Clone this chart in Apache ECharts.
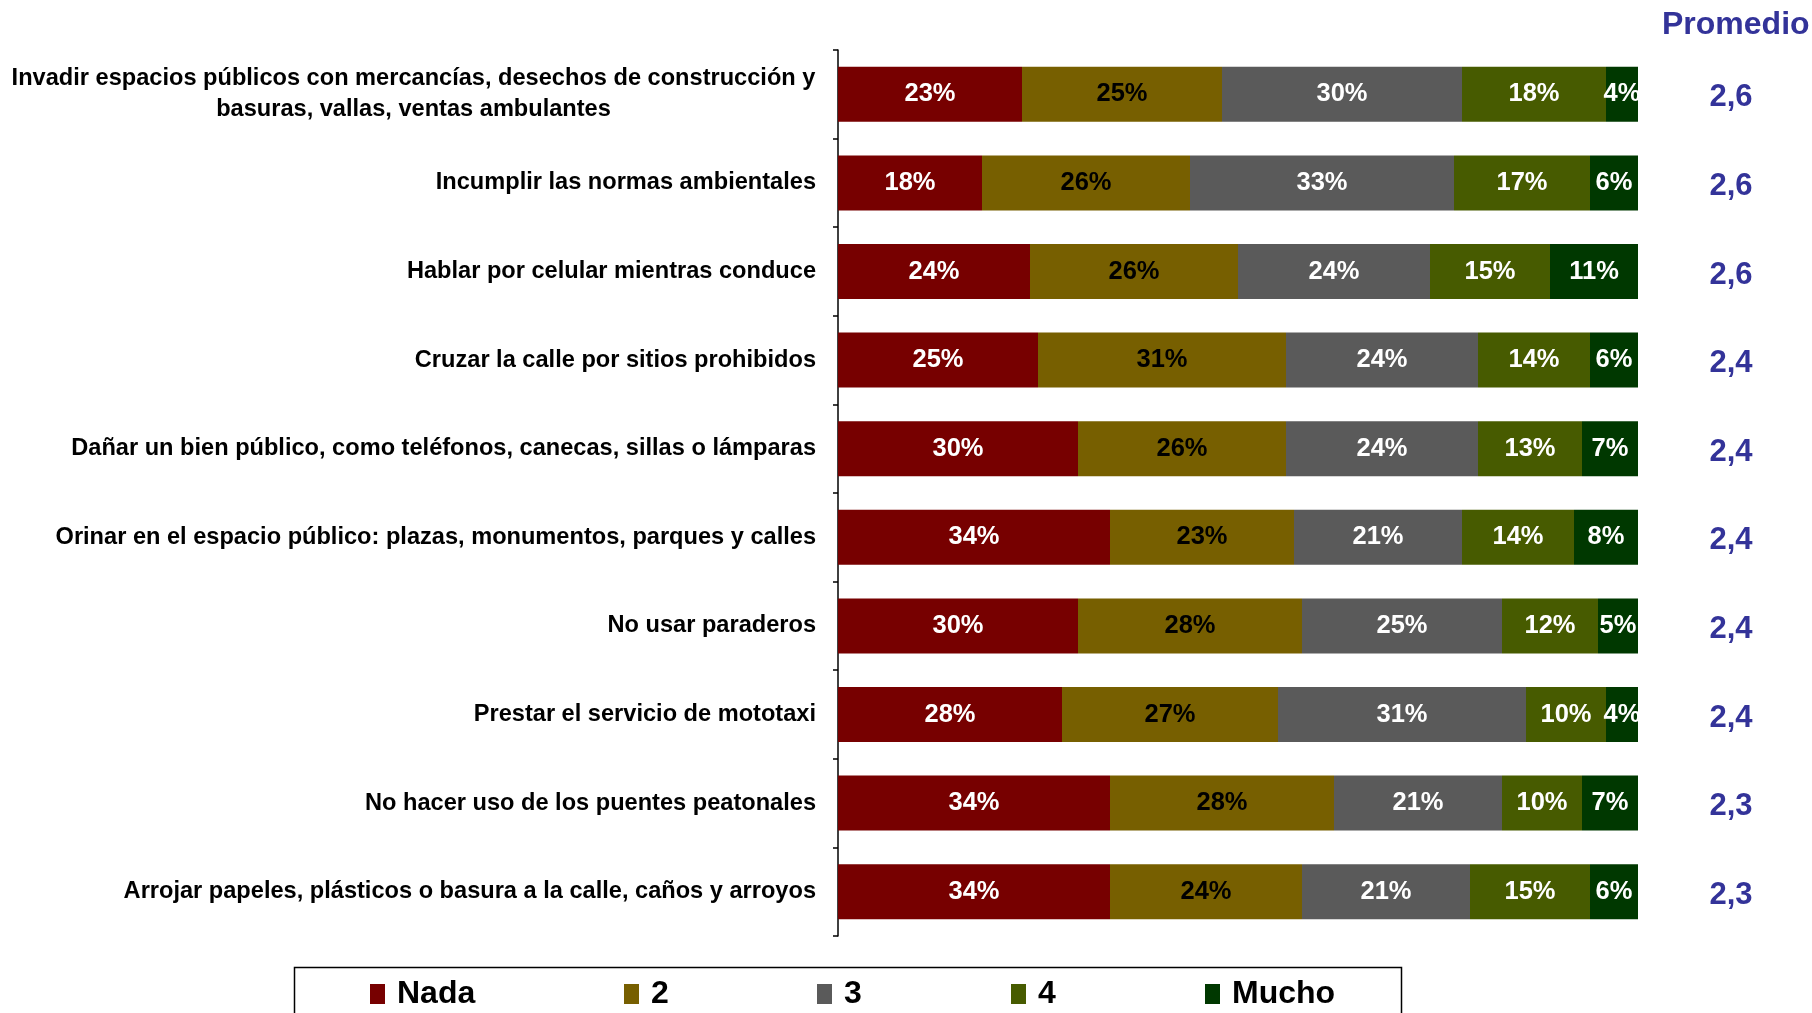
<!DOCTYPE html>
<html><head><meta charset="utf-8">
<script src="https://cdn.jsdelivr.net/npm/echarts@6/dist/echarts.min.js"></script>
<style>html,body{margin:0;padding:0;background:#fff}#c{width:1812px;height:1013px}</style>
</head><body><div id="c"></div>
<script>
const categories = [
  'Invadir espacios públicos con mercancías, desechos de construcción y\nbasuras, vallas, ventas ambulantes',
  'Incumplir las normas ambientales',
  'Hablar por celular mientras conduce',
  'Cruzar la calle por sitios prohibidos',
  'Dañar un bien público, como teléfonos, canecas, sillas o lámparas',
  'Orinar en el espacio público: plazas, monumentos, parques y calles',
  'No usar paraderos',
  'Prestar el servicio de mototaxi',
  'No hacer uso de los puentes peatonales',
  'Arrojar papeles, plásticos o basura a la calle, caños y arroyos'
];
const nada  = [23,18,24,25,30,34,30,28,34,34];
const dos   = [25,26,26,31,26,23,28,27,28,24];
const tres  = [30,33,24,24,24,21,25,31,21,21];
const cuatro= [18,17,15,14,13,14,12,10,10,15];
const mucho = [4,6,11,6,7,8,5,4,7,6];
const promedio = ['2,6','2,6','2,6','2,4','2,4','2,4','2,4','2,4','2,3','2,3'];
const seriesNames = ['Nada','2','3','4','Mucho'];

const FONT = '"Liberation Sans", Arial, sans-serif';
const colors = ['#770000','#775f00','#5a5a5a','#475b00','#003800'];
const labelColors = ['#ffffff','#000000','#ffffff','#ffffff','#ffffff'];
const values = [nada,dos,tres,cuatro,mucho];
const legendLefts = [370,624,817,1011,1205];

const chart = echarts.init(document.getElementById('c'));
chart.setOption({
  animation:false,
  textStyle:{fontFamily:FONT},
  title:{text:'Promedio',left:1657,top:4,textStyle:{fontFamily:FONT,fontSize:32,fontWeight:'bold',color:'#333399'}},
  graphic:[{type:'rect',left:292,top:965,shape:{width:1107,height:70},
    style:{fill:'none',stroke:'#000',lineWidth:1.5},silent:true}],
  legend:seriesNames.map((n,k)=>({
    data:[n], left:legendLefts[k], top:978, padding:0,
    icon:'rect', itemWidth:15, itemHeight:20, itemGap:0,
    textStyle:{fontFamily:FONT,fontSize:32,fontWeight:'bold',color:'#000',padding:[0,0,0,7]}
  })),
  grid:{left:838,right:174,top:50,bottom:77,containLabel:false},
  xAxis:{type:'value',min:0,max:100,show:false},
  yAxis:[{
    type:'category',data:categories,inverse:true,
    axisLine:{show:true,lineStyle:{color:'#000',width:1.5}},
    axisTick:{show:true,length:5,lineStyle:{color:'#000',width:1.5}},
    axisLabel:{
      margin:22,fontFamily:FONT,fontSize:23.6,fontWeight:'bold',color:'#000',lineHeight:31,
      formatter:function(v){
        const parts=v.split('\n');
        if(parts.length===1) return v;
        return parts.map(p=>'{c|'+p+'}').join('\n');
      },
      rich:{c:{width:805,align:'center',fontFamily:FONT,fontSize:23.6,fontWeight:'bold',color:'#000',lineHeight:31}}
    }
  },{
    type:'category',data:categories,inverse:true,position:'right',
    axisLine:{show:false},axisTick:{show:false},
    axisLabel:{
      margin:93,align:'center',
      formatter:function(v,i){return '{p|'+promedio[i]+'}';},
      rich:{p:{fontFamily:FONT,fontSize:31,fontWeight:'bold',color:'#333399',padding:[7,0,0,0]}}
    }
  }],
  series:seriesNames.map((n,k)=>({
    name:n,type:'bar',stack:'t',data:values[k],barWidth:55,
    itemStyle:{color:colors[k]},
    label:{show:true,position:'inside',formatter:'{c}%',fontFamily:FONT,fontSize:25.5,fontWeight:'bold',color:labelColors[k]}
  }))
});
</script></body></html>
